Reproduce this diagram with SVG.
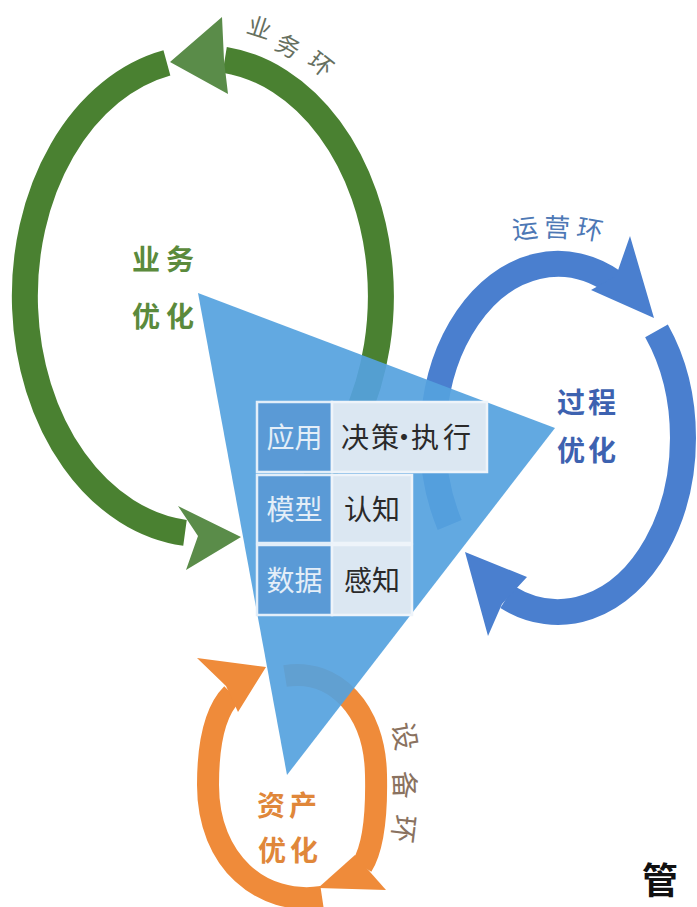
<svg xmlns="http://www.w3.org/2000/svg" width="697" height="907" viewBox="0 0 697 907">
<style>
.cjk{font-family:"Noto Sans CJK SC","Noto Sans CJK JP",sans-serif}
.g-arc{fill:none;stroke:#4a8131;stroke-width:26}
.g-head{fill:#5a8c49}
.b-arc{fill:none;stroke:#4a7fcf;stroke-width:26}
.b-head{fill:#4a7fcf}
.o-arc{fill:none;stroke:#ef8b3a;stroke-width:22}
.o-head{fill:#ef8b3a}
.tri{fill:#55a2de;fill-opacity:0.92}
.cl{fill:#5a9ad6;stroke:#e2eef9;stroke-width:2.5}
.cr{fill:#dbe7f2;stroke:#eef4fa;stroke-width:2.5}
.tl{font-size:28px;fill:#e4eef8;text-anchor:middle}
.tr{font-size:28px;fill:#2a2a2a;text-anchor:middle}
.lab{font-size:28px;font-weight:bold;text-anchor:middle}
.ring-lab{text-anchor:middle}
</style>
<rect x="0" y="0" width="697" height="907" fill="#ffffff"/>

<g id="connectors">
  <g id="ring-business">
    <path class="g-arc" d="M 224.7 59.8 A 178 238 0 0 1 263.9 519.6"/>
    <path class="g-arc" d="M 166.9 62.9 A 178 238 0 0 0 185 532.8"/>
    <polygon class="g-head" points="222,17 170,62 228,94 224,60"/>
    <polygon class="g-head" points="178,506 241,537 186,570 198,536"/>
  </g>
  <g id="ring-operation">
    <path class="b-arc" d="M 449.7 525 A 125 174 0 0 1 615 283.1"/>
    <path class="b-arc" d="M 656.5 330.9 A 125 174 0 0 1 507.2 597"/>
    <polygon class="b-head" points="630,236 654,318 591,290 616,276"/>
    <polygon class="b-head" points="527,577 465,552 488,636 502,604"/>
  </g>
  <g id="ring-equipment">
    <path class="o-arc" d="M 285 676 C 335 668 375 710 376 775 C 377 820 372 850 362 866"/>
    <path class="o-arc" d="M 322 897 C 262 906 208 862 208 785 C 208 735 218 708 232 694"/>
    <polygon class="o-head" points="355,855 386,890 318,888"/>
    <polygon class="o-head" points="197,658 266,667 238,712 226,686"/>
  </g>
</g>

<g id="core-triangle">
  <polygon class="tri" points="198,293 555,428 287,775"/>
</g>

<g id="cell-app">
  <rect class="cl" x="257" y="402" width="75" height="70"/>
  <text class="cjk tl" x="294.5" y="447.6">应用</text>
</g>
<g id="cell-decision">
  <rect class="cr" x="332" y="402" width="155" height="70"/>
  <text class="cjk tr" x="355 385 404 425 457" y="447.6">决策·执行</text>
</g>
<g id="cell-model">
  <rect class="cl" x="257" y="475" width="75" height="68"/>
  <text class="cjk tl" x="294.5" y="519.6">模型</text>
</g>
<g id="cell-cognition">
  <rect class="cr" x="332" y="475" width="80" height="68"/>
  <text class="cjk tr" x="372" y="519.6">认知</text>
</g>
<g id="cell-data">
  <rect class="cl" x="257" y="545" width="75" height="70"/>
  <text class="cjk tl" x="294.5" y="590.6">数据</text>
</g>
<g id="cell-perception">
  <rect class="cr" x="332" y="545" width="80" height="70"/>
  <text class="cjk tr" x="372" y="590.6">感知</text>
</g>

<g id="label-business" fill="#5b8a3c">
  <text class="cjk lab" font-size="27" x="146 180" y="270">业务</text>
  <text class="cjk lab" font-size="27" x="146 180" y="327">优化</text>
</g>
<g id="label-process" fill="#3d62b0">
  <text class="cjk lab" x="571 602" y="412.6">过程</text>
  <text class="cjk lab" x="571 602" y="460.6">优化</text>
</g>
<g id="label-asset" fill="#e0873a">
  <text class="cjk lab" x="271 303" y="816">资产</text>
  <text class="cjk lab" x="272 304" y="861">优化</text>
</g>

<g id="title-business" fill="#66705f" font-size="24">
  <text class="cjk ring-lab" transform="translate(259.5,27.5) rotate(18)" y="9">业</text>
  <text class="cjk ring-lab" transform="translate(288,46) rotate(28)" y="9">务</text>
  <text class="cjk ring-lab" transform="translate(321,64) rotate(38)" y="9">环</text>
</g>
<g id="title-operation" fill="#4d78b5" font-size="26">
  <text class="cjk ring-lab" transform="translate(525,228) rotate(-6)" y="10">运</text>
  <text class="cjk ring-lab" transform="translate(557,227) rotate(2)" y="10">营</text>
  <text class="cjk ring-lab" transform="translate(590,229) rotate(10)" y="10">环</text>
</g>
<g id="title-equipment" fill="#8a7260" font-size="28">
  <text class="cjk ring-lab" transform="translate(405,736) rotate(80)" y="10.5">设</text>
  <text class="cjk ring-lab" transform="translate(405,785) rotate(88)" y="10.5">备</text>
  <text class="cjk ring-lab" transform="translate(404,829) rotate(97)" y="10.5">环</text>
</g>

<text class="cjk" x="660" y="894" font-size="36" font-weight="bold" fill="#111111" text-anchor="middle">管</text>
</svg>
